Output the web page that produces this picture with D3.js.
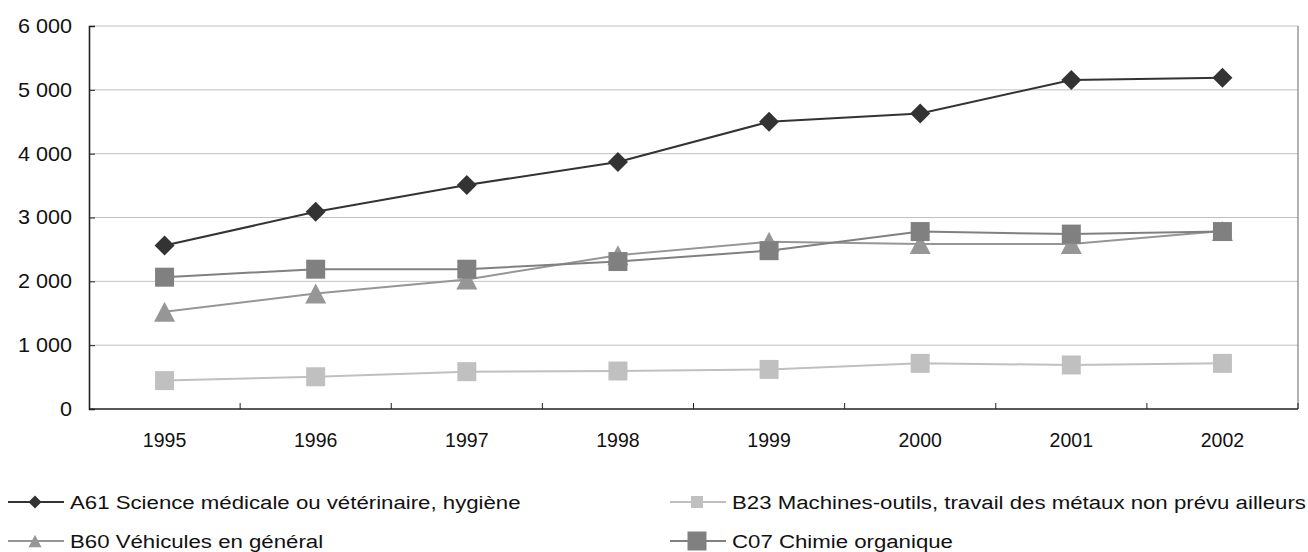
<!DOCTYPE html>
<html>
<head>
<meta charset="utf-8">
<script src="https://cdnjs.cloudflare.com/ajax/libs/d3/7.8.5/d3.min.js"></script>
<style>
  html, body { margin: 0; padding: 0; background: #fff; }
  svg { display: block; font-family: "Liberation Sans", Arial, sans-serif; }
</style>
</head>
<body>
<svg id="chart" width="1308" height="552"></svg>
<script>
// Years on the category axis
const years = ["1995", "1996", "1997", "1998", "1999", "2000", "2001", "2002"];

// Patent counts per technology field
const a61 = [2560, 3090, 3510, 3870, 4500, 4630, 5155, 5190];
const b23 = [445, 505, 585, 595, 620, 715, 690, 715];
const b60 = [1525, 1810, 2030, 2410, 2620, 2585, 2585, 2790];
const c07 = [2065, 2190, 2190, 2310, 2480, 2780, 2740, 2780];

const yTicks = [0, 1000, 2000, 3000, 4000, 5000, 6000];

const series = [
  { name: "A61 Science médicale ou vétérinaire, hygiène", values: a61, color: "#333333", marker: "diamond", size: 20, legendSize: 13 },
  { name: "B23 Machines-outils, travail des métaux non prévu ailleurs", values: b23, color: "#c0c0c0", marker: "square", size: 19, legendSize: 12 },
  { name: "B60 Véhicules en général", values: b60, color: "#969696", marker: "triangle", size: 21, legendSize: 13 },
  { name: "C07 Chimie organique", values: c07, color: "#808080", marker: "square", size: 19, legendSize: 19 }
];

const svg = d3.select("#chart");
const plot = { left: 89, right: 1298, top: 26, bottom: 409 };

const x = d3.scaleBand().domain(years).range([plot.left, plot.right]);
const y = d3.scaleLinear().domain([0, 6000]).range([plot.bottom, plot.top]);

const fmt = v => d3.format(",")(v).replace(/,/g, " ");

// Horizontal gridlines
svg.append("g").selectAll("line")
  .data(yTicks.filter(d => d > 0))
  .join("line")
  .attr("x1", plot.left).attr("x2", plot.right)
  .attr("y1", d => y(d)).attr("y2", d => y(d))
  .attr("stroke", "#c0c0c0").attr("stroke-width", 1);

// Right border of plot area
svg.append("line")
  .attr("x1", plot.right).attr("x2", plot.right)
  .attr("y1", plot.top).attr("y2", plot.bottom)
  .attr("stroke", "#808080").attr("stroke-width", 1.2);

// Y axis, ticks pointing into the plot
const yAxis = d3.axisRight(y).tickValues(yTicks).tickSize(6).tickFormat(fmt);
const gy = svg.append("g").attr("transform", `translate(${plot.left},0)`).call(yAxis);
gy.select(".domain").attr("stroke", "#222").attr("stroke-width", 1.6);
gy.selectAll(".tick line").attr("stroke", "#222");
gy.selectAll(".tick text")
  .attr("x", 0)
  .attr("transform", "translate(-17,0) scale(1.08,1)")
  .attr("text-anchor", "end")
  .attr("font-size", 20).attr("fill", "#111")
  .attr("font-family", "Liberation Sans, Arial, sans-serif");

// X axis with ticks between categories, pointing inward
const gx = svg.append("g").attr("transform", `translate(0,${plot.bottom})`);
gx.append("line")
  .attr("x1", plot.left).attr("x2", plot.right)
  .attr("stroke", "#222").attr("stroke-width", 1.6);
gx.selectAll(".sep")
  .data(years.slice(1).concat(["end"]))
  .join("line")
  .attr("class", "sep")
  .attr("x1", (d, i) => plot.left + x.step() * (i + 1))
  .attr("x2", (d, i) => plot.left + x.step() * (i + 1))
  .attr("y1", 0).attr("y2", -6)
  .attr("stroke", "#222");
gx.selectAll(".lab")
  .data(years)
  .join("text")
  .attr("class", "lab")
  .attr("x", d => x(d) + x.bandwidth() / 2)
  .attr("y", 38)
  .attr("text-anchor", "middle")
  .attr("font-size", 19.5).attr("fill", "#111")
  .text(d => d);

function markerPath(type, s) {
  const h = s / 2;
  if (type === "diamond") return `M0,${-h}L${h},0L0,${h}L${-h},0Z`;
  if (type === "square") return `M${-h},${-h}H${h}V${h}H${-h}Z`;
  if (type === "triangle") {
    const th = s * 0.95;
    return `M0,${-th / 2}L${h},${th / 2}L${-h},${th / 2}Z`;
  }
}

const line = d3.line()
  .x((d, i) => x(years[i]) + x.bandwidth() / 2)
  .y(d => y(d));

// Series lines and markers
series.forEach(s => {
  const g = svg.append("g");
  g.append("path")
    .attr("d", line(s.values))
    .attr("fill", "none")
    .attr("stroke", s.color)
    .attr("stroke-width", 2);
  g.selectAll("path.m")
    .data(s.values)
    .join("path")
    .attr("class", "m")
    .attr("transform", (d, i) => `translate(${x(years[i]) + x.bandwidth() / 2},${y(d)})`)
    .attr("d", markerPath(s.marker, s.size))
    .attr("fill", s.color);
});

// Legend: two columns, two rows
const legendPos = [
  { x: 8, y: 502 },
  { x: 670, y: 502 },
  { x: 8, y: 541 },
  { x: 670, y: 541 }
];
series.forEach((s, i) => {
  const p = legendPos[i];
  const g = svg.append("g").attr("transform", `translate(${p.x},${p.y})`);
  g.append("line").attr("x1", 0).attr("x2", 56).attr("y1", 0).attr("y2", 0)
    .attr("stroke", s.color).attr("stroke-width", 2);
  g.append("path").attr("transform", "translate(27,0)")
    .attr("d", markerPath(s.marker, s.legendSize))
    .attr("fill", s.color);
  g.append("text")
    .attr("transform", "translate(62,6.5) scale(1.17,1)")
    .attr("font-size", 19).attr("fill", "#111")
    .text(s.name);
});
</script>
</body>
</html>
